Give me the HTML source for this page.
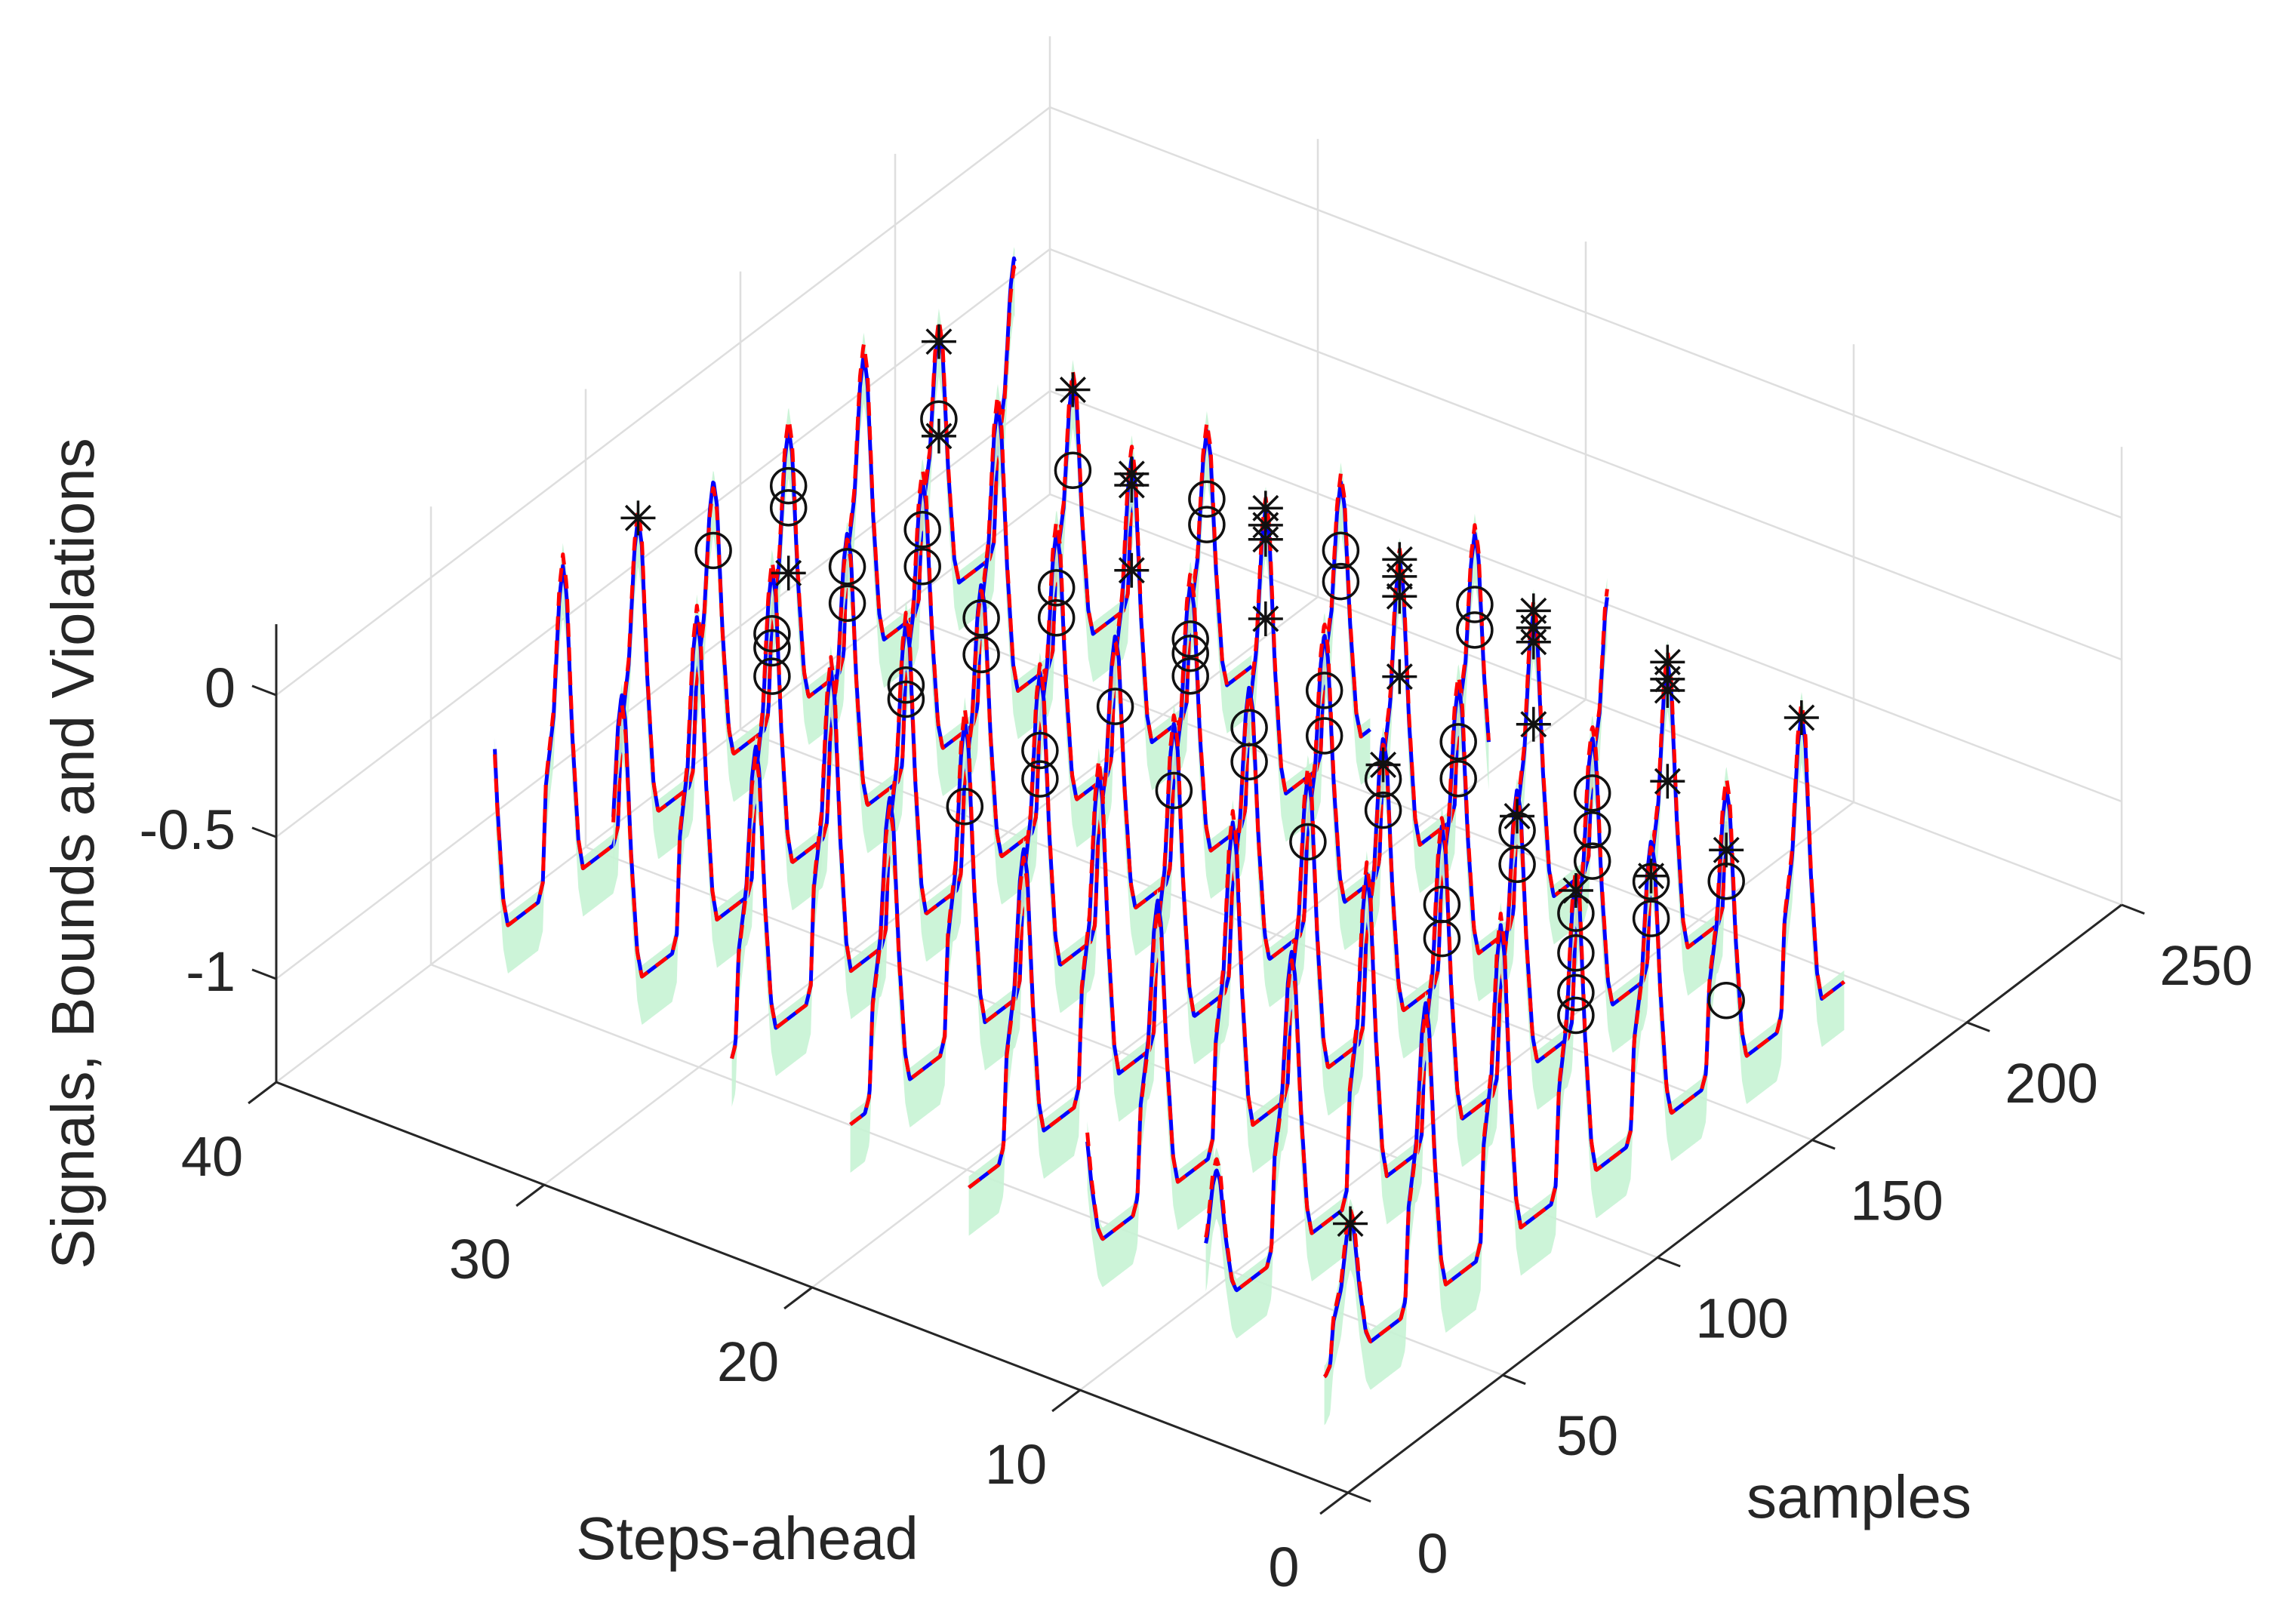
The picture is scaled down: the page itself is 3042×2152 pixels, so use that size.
<!DOCTYPE html>
<html>
<head>
<meta charset="utf-8">
<style>
html,body{margin:0;padding:0;background:#fff;}
svg{display:block;}
text{font-family:"Liberation Sans",Arial,sans-serif;fill:#262626;}
</style>
</head>
<body>
<svg id="chart" xmlns="http://www.w3.org/2000/svg" width="3042" height="2152" viewBox="0 0 3042 2152">
  <rect x="0" y="0" width="3042" height="2152" fill="#ffffff"/>
  <g id="grid"></g>
  <g id="axes"></g>
  <g id="series"></g>
  <g id="markers"></g>
  <text x="990" y="2066" font-size="80" text-anchor="middle">Steps-ahead</text>
  <text x="2463" y="2011" font-size="80" text-anchor="middle">samples</text>
  <text x="0" y="0" font-size="80" text-anchor="middle" transform="translate(124,1131) rotate(-90)">Signals, Bounds and Violations</text>
</svg>
<script>
// ---- data ----
const traceSteps = [36, 31, 26, 21, 16, 11, 6, 1];
const traceLength = 168;
const cyclePeakS = [9.4, 33.7, 58, 82.3, 106.6, 130.9, 155.2, 179.5, 203.8];
const peakBlue = [-0.52, 0.05, 0.12, 0.09, 0.02, 0.0, 0.06, -0.05, 0.0];
const peakRed = [-0.48, 0.02, 0.16, 0.12, 0.0, 0.04, 0.1, -0.02, -0.03];
const baselineZ = -1.0;
const shapeOffsets = [-8, -6.5, -5.5, -3, -1.2, 0, 1.2, 3, 5, 6.5];
const shapeFrac = [0, 0.05, 0.35, 0.55, 0.9, 1, 0.9, 0.45, 0.1, 0];
const stepTicks = [0, 10, 20, 30, 40];
const sampleTicks = [0, 50, 100, 150, 200, 250];
const zTicks = [-1, -0.5, 0];
const zTickLabels = ["-1", "-0.5", "0"];
const markerStep = [36,36,36,36,36, 31,31,31, 36,36,36, 31,31, 31,31, 31,31, 26,26, 26,26, 26,26, 21,21, 21, 21, 26,26, 26,26,26, 21,21,21, 21, 21,21,21, 16,16, 16, 21,21, 16,16,16, 16, 16,16, 11,11, 11, 11, 16,16, 11,11, 11,11,11, 11, 6,6, 6, 6,6, 6,6,6, 1,1,1,1, 1, 6,6,6, 6, 1,1, 1, 1, 1, 1, 1, 1];
const markerCycle = [3,4,5,5,5, 3,3,3, 7,7,7, 7,7, 4,4, 5,5, 4,4, 3,3, 5,5, 3,3, 2, 4, 7,7, 6,6,6, 5,5,5, 6, 6,6,6, 4,4, 3, 7,7, 6,6,6, 6, 5,5, 4,4, 4, 3, 7,7, 5,5, 6,6,6, 6, 4,4, 4, 3,3, 5,5,5, 3,3,3,3, 3, 6,6,6, 6, 4,4, 4, 5, 5, 5, 6, 0];
const markerZ = [0.087,-0.229,-0.202,-0.28,-0.51, -0.19,-0.14,-0.29, -0.097,-0.37,-0.43, -0.086,-0.37, -0.105,-0.234, -0.176,-0.306, -0.105,-0.234, -0.19,-0.14, -0.2,-0.306, -0.19,-0.29, -0.186, -0.236, -0.29,-0.38, 0.0,-0.04,-0.34, -0.2,-0.33,-0.25, -0.33, 0.06,0.0,-0.05, -0.13,-0.25, -0.15, -0.29,-0.4, 0.06,0.0,-0.07, -0.353, -0.2,-0.36, -0.13,-0.24, -0.08, -0.15, -0.3,-0.39, -0.2,-0.33, 0.06,0.0,-0.05, -0.34, -0.13,-0.25, -0.08, -0.19,-0.31, -0.2,-0.33,-0.44, -0.04,-0.18,-0.40,-0.32, 0.04, 0.06,0.0,-0.04, -0.36, -0.13,-0.26, -0.11, -0.33, -0.22, -0.75, 0.045, -0.53];
const markerType = ["star","circle","circle","circle","star", "circle","circle","circle", "star","circle","star", "star","circle", "circle","circle", "circle","circle", "circle","circle", "circle","circle", "circle","circle", "circle","circle", "circle", "circle", "circle","circle", "star","star","star", "circle","circle","circle", "star", "star","star","star", "circle","circle", "circle", "circle","circle", "star","star","star", "star", "circle","circle", "circle","circle", "star", "circle", "circle","circle", "circle","circle", "star","star","star", "star", "circle","circle", "star", "circle","circle", "circle","circle","circle", "circle","circle","circle","circle", "star", "star","star","star", "star", "circle","circle", "star", "circle", "star", "circle", "star", "star"];

// ---- projection ----
const zMin = -1.364, zMax = 0.25;
const stepMax = 40, sampleMax = 250;
function P(s, h, z) {
  return [1786 + 4.1 * s - 35.5 * h, 1978 - 3.116 * s - 13.6 * h - (z - zMin) * 376];
}
const NS = "http://www.w3.org/2000/svg";
function mk(tag, attrs, parent) {
  const e = document.createElementNS(NS, tag);
  for (const k in attrs) e.setAttribute(k, attrs[k]);
  parent.appendChild(e);
  return e;
}
function seg(a, b) { return "M" + a[0].toFixed(1) + "," + a[1].toFixed(1) + "L" + b[0].toFixed(1) + "," + b[1].toFixed(1); }

const gGrid = document.getElementById("grid");
const gAxes = document.getElementById("axes");
const gSeries = document.getElementById("series");
const gMarkers = document.getElementById("markers");
const gridStyle = {stroke: "#dedede", "stroke-width": 2.5, fill: "none"};

let d = "";
for (const s of sampleTicks) {
  if (s > 0) d += seg(P(s, stepMax, zMin), P(s, stepMax, zMax));
  if (s > 0) d += seg(P(s, 0, zMin), P(s, stepMax, zMin));
}
for (const h of stepTicks) {
  d += seg(P(sampleMax, h, zMin), P(sampleMax, h, zMax));
  if (h > 0) d += seg(P(0, h, zMin), P(sampleMax, h, zMin));
}
for (const z of zTicks) {
  d += seg(P(0, stepMax, z), P(sampleMax, stepMax, z));
  d += seg(P(sampleMax, stepMax, z), P(sampleMax, 0, z));
}
const gridPath = mk("path", Object.assign({d: d}, gridStyle), gGrid);



const axStyle = {stroke: "#262626", "stroke-width": 3, fill: "none"};
const xAxis = mk("path", Object.assign({d: seg(P(0, 0, zMin), P(0, stepMax, zMin))}, axStyle), gAxes);


const yAxis = mk("path", Object.assign({d: seg(P(0, 0, zMin), P(sampleMax, 0, zMin))}, axStyle), gAxes);


const zAxis = mk("path", Object.assign({d: seg(P(0, stepMax, zMin), P(0, stepMax, zMax))}, axStyle), gAxes);



for (const h of stepTicks) {
  const a = P(0, h, zMin), b = P(-9, h, zMin);
  const t = mk("path", Object.assign({d: seg(a, b)}, axStyle), gAxes);
  
  
  const lb = mk("text", {x: a[0] - 85, y: a[1] + 124, "font-size": 74, "text-anchor": "middle"}, gAxes);
  lb.textContent = String(h);
  
  
}
for (const s of sampleTicks) {
  const a = P(s, 0, zMin), b = P(s, -0.85, zMin);
  const t = mk("path", Object.assign({d: seg(a, b)}, axStyle), gAxes);
  
  
  const lb = mk("text", {x: a[0] + 112, y: a[1] + 106, "font-size": 74, "text-anchor": "middle"}, gAxes);
  lb.textContent = String(s);
  
  
}
zTicks.forEach(function (z, i) {
  const a = P(0, stepMax, z), b = P(0, stepMax + 0.9, z);
  const t = mk("path", Object.assign({d: seg(a, b)}, axStyle), gAxes);
  
  
  const lb = mk("text", {x: 312, y: a[1] + 16, "font-size": 74, "text-anchor": "end"}, gAxes);
  lb.textContent = zTickLabels[i];
  
  
});

function signal(s, peaks) {
  for (let k = 0; k < cyclePeakS.length; k++) {
    const dd = s - cyclePeakS[k];
    if (dd >= shapeOffsets[0] && dd <= shapeOffsets[shapeOffsets.length - 1]) {
      let i = 0;
      while (i < shapeOffsets.length - 2 && dd > shapeOffsets[i + 1]) i++;
      const u = (dd - shapeOffsets[i]) / (shapeOffsets[i + 1] - shapeOffsets[i]);
      const f = shapeFrac[i] + u * (shapeFrac[i + 1] - shapeFrac[i]);
      return baselineZ + f * (peaks[k] - baselineZ);
    }
  }
  return baselineZ;
}

traceSteps.forEach(function (h) {
  const ptsB = [], ptsR = [], up = [], lo = [];
  for (let s = h; s <= h + traceLength + 1e-6; s += 0.25) {
    const zb = signal(s, peakBlue), zr = signal(s, peakRed);
    ptsB.push(P(s, h, zb));
    ptsR.push(P(s, h, zr));
    up.push(P(s, h, Math.max(zb, zr) + 0.04));
    lo.push(P(s, h, Math.min(zb, zr) - 0.17));
  }
  const band = up.concat(lo.slice().reverse()).map(p => p[0].toFixed(1) + "," + p[1].toFixed(1)).join(" ");
  const bandEl = mk("polygon", {points: band, fill: "#c6f3d4", stroke: "none", opacity: 0.9}, gSeries);
  
  
  const blue = mk("polyline", {points: ptsB.map(p => p[0].toFixed(1) + "," + p[1].toFixed(1)).join(" "), fill: "none", stroke: "#0000ff", "stroke-width": 5, "stroke-linejoin": "round"}, gSeries);
  
  
  const red = mk("polyline", {points: ptsR.map(p => p[0].toFixed(1) + "," + p[1].toFixed(1)).join(" "), fill: "none", stroke: "#ff0000", "stroke-width": 5, "stroke-dasharray": "18 14", "stroke-linejoin": "round"}, gSeries);
  
  
});

markerStep.forEach(function (h, i) {
  const p = P(cyclePeakS[markerCycle[i]], h, markerZ[i]);
  if (markerType[i] === "circle") {
    const c = mk("circle", {cx: p[0].toFixed(1), cy: p[1].toFixed(1), r: 23, fill: "none", stroke: "#111", "stroke-width": 3.5}, gMarkers);
    
    
  } else {
    const r = 23, q = r * 0.707;
    const dd = "M" + (p[0] - r) + "," + p[1] + "h" + (2 * r) +
      "M" + p[0] + "," + (p[1] - r) + "v" + (2 * r) +
      "M" + (p[0] - q) + "," + (p[1] - q) + "l" + (2 * q) + "," + (2 * q) +
      "M" + (p[0] - q) + "," + (p[1] + q) + "l" + (2 * q) + "," + (-2 * q);
    const st = mk("path", {d: dd, stroke: "#111", "stroke-width": 3.5, fill: "none"}, gMarkers);
    
    
  }
});
</script>
</body>
</html>
